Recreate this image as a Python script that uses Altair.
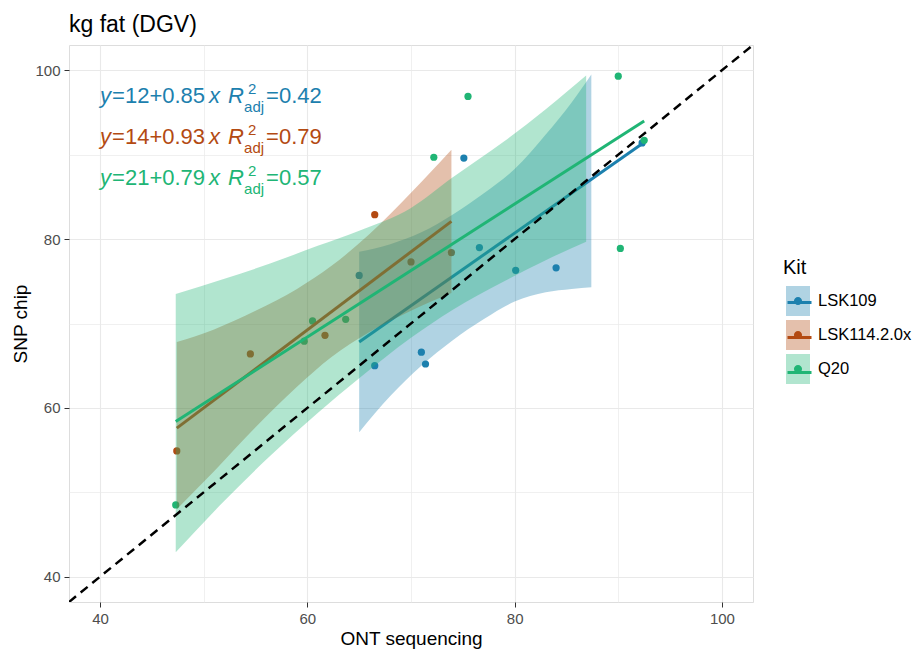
import altair as alt
import pandas as pd

FONT = "Liberation Sans"

kits = ["LSK109", "LSK114.2.0x", "Q20"]
kit_colors = ["#1c80ae", "#b34a12", "#20b575"]

# ---- observed points (ONT sequencing vs SNP chip) ----
lsk109_x = [65.0, 66.5, 71.0, 71.4, 75.1, 76.6, 80.1, 84.0, 92.3]
lsk109_y = [75.7, 65.0, 66.6, 65.2, 89.6, 79.0, 76.3, 76.6, 91.4]
lsk114_x = [47.4, 54.5, 61.7, 66.5, 70.0, 73.9]
lsk114_y = [54.9, 66.4, 68.6, 82.9, 77.3, 78.4]
q20_x = [47.3, 59.7, 60.5, 63.7, 72.2, 75.5, 90.0, 90.2, 92.5]
q20_y = [48.5, 67.9, 70.3, 70.5, 89.7, 96.9, 99.3, 78.9, 91.7]

# ---- fitted lines (end points) ----
lsk109_fit_x = [65.0, 92.3]
lsk109_fit_y = [67.8, 91.3]
lsk114_fit_x = [47.4, 73.9]
lsk114_fit_y = [57.6, 82.1]
q20_fit_x = [47.3, 92.5]
q20_fit_y = [58.4, 94.0]

# ---- confidence bands ----
lsk109_band_x = [65.0, 68, 71, 74, 77, 80, 83, 85.5, 87.4]
lsk109_band_lo = [57.1, 61.4, 65.0, 68.0, 70.5, 72.6, 73.7, 74.1, 74.3]
lsk109_band_hi = [78.5, 79.4, 80.8, 82.9, 85.4, 88.3, 92.4, 96.2, 99.5]
lsk114_band_x = [47.4, 51, 55, 59, 62.3, 66, 70, 73.9]
lsk114_band_lo = [48.0, 52.5, 57.7, 62.5, 66.0, 69.0, 71.5, 73.6]
lsk114_band_hi = [67.8, 69.3, 71.5, 74.1, 76.8, 80.6, 85.5, 90.6]
q20_band_x = [47.3, 52, 56.4, 61, 65, 70, 74, 79, 83, 86.9]
q20_band_lo = [42.9, 49.0, 54.3, 59.4, 63.5, 68.3, 71.6, 75.0, 77.5, 79.7]
q20_band_hi = [73.5, 75.3, 77.1, 79.2, 81.0, 83.7, 87.3, 91.6, 95.4, 99.4]

# ---- regression equations ----
eq_intercept = ["12", "14", "21"]
eq_slope = ["0.85", "0.93", "0.79"]
eq_r2 = ["0.42", "0.79", "0.57"]
eq_label_x = [40, 40, 40]
eq_label_y = [97.0, 92.05, 87.2]

# identity line y = x
abline_x = [37, 103]

# ---------------------------------------------------------------
def frame(kit, xs, ys, field):
    return pd.DataFrame({field: kit, "x": xs, "y": ys})

points = pd.concat([
    frame("LSK109", lsk109_x, lsk109_y, "Kit"),
    frame("LSK114.2.0x", lsk114_x, lsk114_y, "Kit"),
    frame("Q20", q20_x, q20_y, "Kit"),
])
fits = {
    "LSK109": frame("LSK109", lsk109_fit_x, lsk109_fit_y, "KitLine"),
    "LSK114.2.0x": frame("LSK114.2.0x", lsk114_fit_x, lsk114_fit_y, "KitLine"),
    "Q20": frame("Q20", q20_fit_x, q20_fit_y, "KitLine"),
}
bands = {
    "LSK109": pd.DataFrame({"KitBand": "LSK109", "x": lsk109_band_x, "lo": lsk109_band_lo, "hi": lsk109_band_hi}),
    "LSK114.2.0x": pd.DataFrame({"KitBand": "LSK114.2.0x", "x": lsk114_band_x, "lo": lsk114_band_lo, "hi": lsk114_band_hi}),
    "Q20": pd.DataFrame({"KitBand": "Q20", "x": q20_band_x, "lo": q20_band_lo, "hi": q20_band_hi}),
}
eqs = pd.DataFrame({
    "Kit": kits, "x": eq_label_x, "y": eq_label_y,
    "eq": ["=" + a + "+" + b for a, b in zip(eq_intercept, eq_slope)],
    "r2": ["=" + r for r in eq_r2],
})
ab = pd.DataFrame({"x": abline_x, "y": abline_x})

dom = [37, 103]
major = "datum.value % 20 == 0"
tick_cond = {"condition": {"test": major, "value": "#333333"}, "value": "rgba(0,0,0,0)"}
grid_w = {"condition": {"test": major, "value": 1.1}, "value": 0.7}

xaxis = alt.Axis(values=[40, 50, 60, 70, 80, 90, 100], labelExpr=f"{major} ? datum.label : ''",
                 tickColor=tick_cond, tickSize=5, gridColor="#e9e9e9", gridWidth=grid_w,
                 domain=False, labelFontSize=15, labelColor="#4d4d4d", labelFont=FONT,
                 labelPadding=4, title="ONT sequencing", titleFont=FONT, titleFontSize=19,
                 titleFontWeight="normal", titleColor="#000000", titlePadding=3)
yaxis = alt.Axis(values=[40, 50, 60, 70, 80, 90, 100], labelExpr=f"{major} ? datum.label : ''",
                 tickColor=tick_cond, tickSize=5, gridColor="#e9e9e9", gridWidth=grid_w,
                 domain=False, labelFontSize=15, labelColor="#4d4d4d", labelFont=FONT,
                 labelPadding=4, title="SNP chip", titleFont=FONT, titleFontSize=19,
                 titleFontWeight="normal", titleColor="#000000", titlePadding=4)

X = alt.X("x:Q", scale=alt.Scale(domain=dom, nice=False, zero=False), axis=xaxis)
Y = alt.Y("y:Q", scale=alt.Scale(domain=dom, nice=False, zero=False), axis=yaxis)
Ylo = alt.Y("lo:Q", scale=alt.Scale(domain=dom, nice=False, zero=False), axis=yaxis)

# colour scale for points/text (explicit domain); band and line scales take their
# (identical, alphabetical) domains from their own data so that three legends are drawn
cscale = alt.Scale(domain=kits, range=kit_colors)
fscale = alt.Scale(range=kit_colors)
sscale = alt.Scale(range=kit_colors)

# legend key glyphs
RECT = "M-0.8,-1L0.8,-1L0.8,1L-0.8,1Z"
LINE = "M-0.8,0L0.8,0"
DOT = "M-0.27,0A0.27,0.27,0,1,0,0.27,0A0.27,0.27,0,1,0,-0.27,0ZM0,-1L0,-1M0,1L0,1M-0.8,0L-0.8,0M0.8,0L0.8,0"

common_leg = dict(orient="none", legendX=714, legendY=213, symbolSize=900,
                  labelFontSize=16.5, labelFont=FONT, labelColor="#000000", titleFont=FONT,
                  titleFontSize=20, titleFontWeight="normal", titleColor="#000000",
                  titlePadding=8, labelOffset=5, padding=0)

leg_fill = alt.Legend(title="Kit", symbolType=RECT, symbolOpacity=0.35, symbolStrokeWidth=0, zindex=0,
                      rowPadding=4, **common_leg)
# overlay legends (key glyph only): blank labels/title keep the same layout
leg_stroke = alt.Legend(title=" ", labelExpr="' '", symbolType=LINE, symbolStrokeWidth=3,
                        zindex=1, rowPadding=10, **common_leg)
leg_color = alt.Legend(title=" ", labelExpr="' '", symbolType=DOT, symbolStrokeWidth=0, symbolOpacity=1,
                       zindex=2, rowPadding=4, **common_leg)

layers = []
layers.append(alt.Chart(points).mark_circle(size=52, opacity=1).encode(
    x=X, y=Y, color=alt.Color("Kit:N", scale=cscale, legend=leg_color)))

for k in kits:
    layers.append(alt.Chart(bands[k]).mark_area(opacity=0.35, interpolate="monotone").encode(
        x=X, y=Ylo, y2="hi:Q", fill=alt.Fill("KitBand:N", scale=fscale, legend=leg_fill)))
    layers.append(alt.Chart(fits[k]).mark_line(strokeWidth=3).encode(
        x=X, y=Y, stroke=alt.Stroke("KitLine:N", scale=sscale, legend=leg_stroke)))

layers.append(alt.Chart(ab).mark_line(color="#000000", strokeDash=[9, 6], strokeWidth=2.5, clip=True).encode(
    x=X, y=Y))

C = alt.Color("Kit:N", scale=cscale, legend=leg_color)
tbase = alt.Chart(eqs)
txt = dict(align="left", baseline="middle", font=FONT)
layers.append(tbase.mark_text(fontSize=22, fontStyle="italic", dx=0, **txt).encode(x=X, y=Y, color=C, text=alt.value("y")))
layers.append(tbase.mark_text(fontSize=22, dx=12, **txt).encode(x=X, y=Y, color=C, text="eq:N"))
layers.append(tbase.mark_text(fontSize=22, fontStyle="italic", dx=109, **txt).encode(x=X, y=Y, color=C, text=alt.value("x")))
layers.append(tbase.mark_text(fontSize=22, fontStyle="italic", dx=128, **txt).encode(x=X, y=Y, color=C, text=alt.value("R")))
layers.append(tbase.mark_text(fontSize=15, dx=148, dy=-7, **txt).encode(x=X, y=Y, color=C, text=alt.value("2")))
layers.append(tbase.mark_text(fontSize=15, dx=144, dy=11, **txt).encode(x=X, y=Y, color=C, text=alt.value("adj")))
layers.append(tbase.mark_text(fontSize=22, dx=166, **txt).encode(x=X, y=Y, color=C, text="r2:N"))

chart = alt.layer(*layers).properties(
    width=684, height=557,
    title=alt.Title("kg fat (DGV)", anchor="start", frame="group", fontSize=23, font=FONT,
                    fontWeight="normal", color="#000000", baseline="alphabetic", offset=15, dy=25),
    autosize=alt.AutoSizeParams(type="none"),
    padding={"left": 69, "top": 45, "right": 166, "bottom": 47},
).configure_view(stroke="#8c8c8c", strokeWidth=1.2).configure(background="#ffffff")

chart.save("out.html", embed_options={"renderer": "svg", "actions": False})
